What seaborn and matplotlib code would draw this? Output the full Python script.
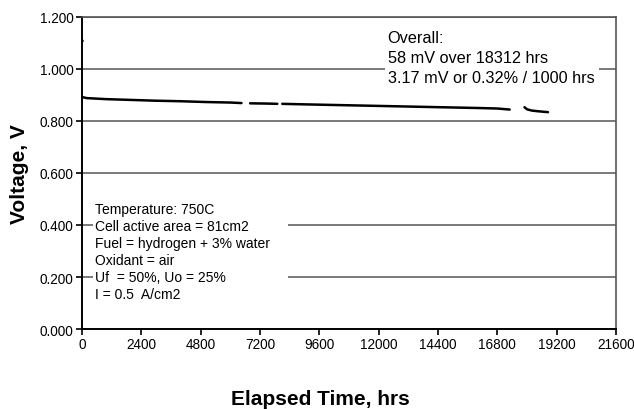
import matplotlib
matplotlib.use("Agg")
import matplotlib.pyplot as plt
import seaborn as sns
import pandas as pd
from matplotlib.patches import Rectangle

# ---- data ----
hours = [0, 200, 1000, 2000, 3000, 4000, 5000, 6000, 6450,
         6800, 7500, 7900,
         8100, 9000, 10000, 11000, 12000, 13000, 14000, 15000, 16000, 16800, 17300,
         17900, 18000, 18200, 18500, 18850]
voltage = [0.892, 0.888, 0.884, 0.881, 0.878, 0.876, 0.873, 0.871, 0.869,
           0.868, 0.867, 0.866,
           0.866, 0.864, 0.862, 0.860, 0.858, 0.856, 0.854, 0.852, 0.850, 0.848, 0.844,
           0.853, 0.845, 0.840, 0.837, 0.834]
segment = [0] * 9 + [1] * 3 + [2] * 11 + [3] * 5
open_circuit_hours = [0]
open_circuit_voltage = [1.108]

x_ticks = [0, 2400, 4800, 7200, 9600, 12000, 14400, 16800, 19200, 21600]
y_ticks = [0.0, 0.2, 0.4, 0.6, 0.8, 1.0, 1.2]

summary_text = "Overall:\n58 mV over 18312 hrs\n3.17 mV or 0.32% / 1000 hrs"
conditions_text = ("Temperature: 750C\nCell active area = 81cm2\n"
                   "Fuel = hydrogen + 3% water\nOxidant = air\n"
                   "Uf  = 50%, Uo = 25%\nI = 0.5  A/cm2")

df = pd.DataFrame({"hours": hours, "voltage": voltage, "seg": segment})
df_oc = pd.DataFrame({"hours": open_circuit_hours, "voltage": open_circuit_voltage})

sns.set_style("ticks")
plt.rcParams["font.family"] = ["Liberation Sans", "DejaVu Sans"]
plt.rcParams["text.color"] = "black"
plt.rcParams["xtick.color"] = "black"
plt.rcParams["ytick.color"] = "black"

fig = plt.figure(figsize=(6.34, 4.10), dpi=100)
ax = fig.add_axes([82 / 634, 1 - 330 / 410, 534 / 634, 312 / 410])

sns.lineplot(data=df, x="hours", y="voltage", units="seg", estimator=None,
             color="black", linewidth=1.8, ax=ax, zorder=3)
sns.scatterplot(data=df_oc, x="hours", y="voltage", color="black", s=6,
                edgecolor="none", ax=ax, zorder=3)

ax.set_xlim(0, 21600)
ax.set_ylim(0, 1.2)
ax.set_xticks(x_ticks)
ax.set_xticklabels([str(t) for t in x_ticks])
ax.set_yticks(y_ticks)
ax.set_yticklabels([f"{v:.3f}" for v in y_ticks])
ax.tick_params(axis="both", labelsize=9.8, length=4, width=1.2, colors="black",
               direction="out", pad=2)
ax.yaxis.grid(True, color="#6e6e6e", linewidth=1.3, zorder=1)
ax.set_axisbelow(True)
for side in ["left", "bottom"]:
    ax.spines[side].set_color("black")
    ax.spines[side].set_linewidth(1.4)
for side in ["top", "right"]:
    ax.spines[side].set_color("#555555")
    ax.spines[side].set_linewidth(1.2)
ax.set_xlabel("")
ax.set_ylabel("")

# white boxes behind annotations
ax.add_patch(Rectangle((0.021, 0.105), 0.365, 0.315, transform=ax.transAxes,
                       facecolor="white", edgecolor="none", zorder=2))
ax.add_patch(Rectangle((0.567, 0.763), 0.401, 0.214, transform=ax.transAxes,
                       facecolor="white", edgecolor="none", zorder=2))

ax.text(0.025, 0.408, conditions_text, transform=ax.transAxes, fontsize=10,
        va="top", ha="left", linespacing=1.28, zorder=4, color="black")
ax.text(0.5725, 0.958, summary_text, transform=ax.transAxes, fontsize=11.7,
        va="top", ha="left", linespacing=1.42, zorder=4, color="black")

fig.text(0.506, 10 / 410, "Elapsed Time, hrs", fontsize=15, fontweight="bold",
         ha="center", va="center", color="black")
fig.text(20 / 634, 1 - 174 / 410, "Voltage, V", fontsize=15, fontweight="bold",
         ha="center", va="center", rotation=90, color="black")

fig.savefig("out.png", dpi=100)
